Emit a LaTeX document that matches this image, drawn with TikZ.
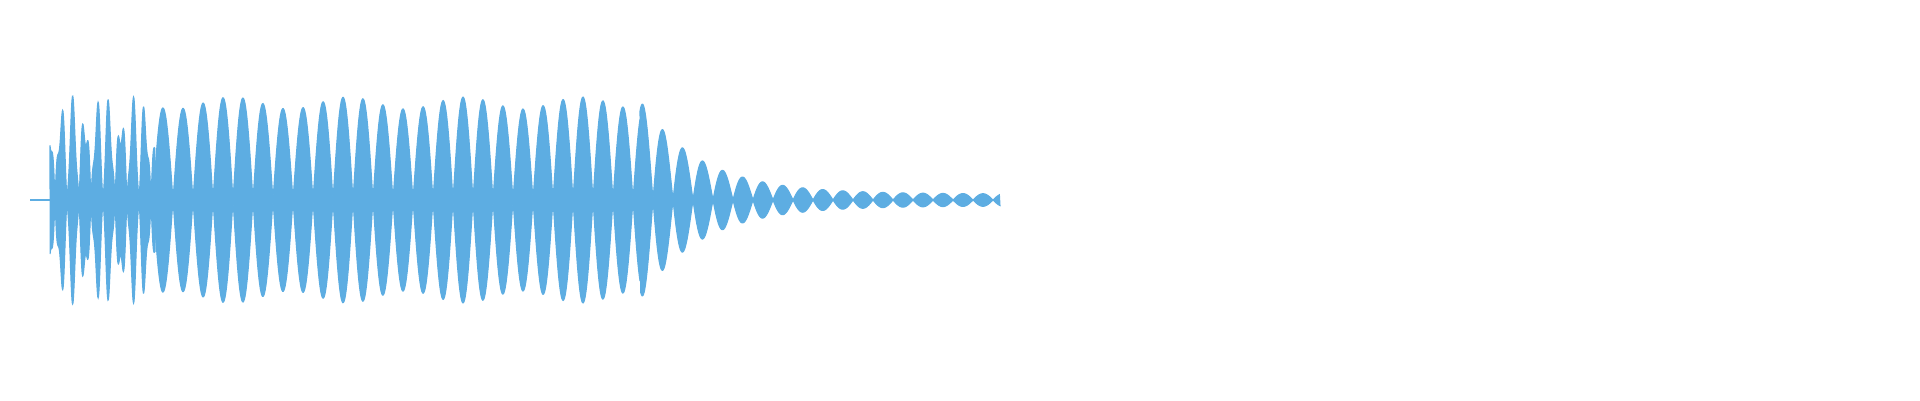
\documentclass[tikz,border=0pt]{standalone}
\usetikzlibrary{backgrounds}
\definecolor{wave}{RGB}{93,173,226}
\tikzset{
  lobe/.style={fill=wave, draw=wave, line width=0.3pt},
}
\begin{document}
\begin{tikzpicture}[
  declare function={
    early(\x)=(0.8+0.25*sin(4100*\x))*abs(sin(1500*(\x-0.55)));
    body(\x)=(0.97+0.06*cos(310*\x))*abs(sin(900*(\x-1.73)));
    tail(\x)=(0.06+0.94*exp(-(\x-6.4)/0.6))*abs(sin(900*(\x-1.73)));
  }]
  \useasboundingbox (0,0) rectangle (19.2,4);

  % quiet lead-in
  \draw [wave, line width=0.5pt] (0.3,2) -- (0.5,2);

  % fast start
  \fill [lobe] plot[domain=0.5:1.55, samples=300, smooth] (\x,{2+early(\x)})
    -- plot[domain=1.55:0.5, samples=300, smooth] (\x,{2-early(\x)}) -- cycle;

  % steady part
  \fill [lobe] plot[domain=1.55:6.4, samples=700] (\x,{2+body(\x)})
    -- plot[domain=6.4:1.55, samples=700] (\x,{2-body(\x)}) -- cycle;

  % decay
  \fill [lobe] plot[domain=6.4:10.0, samples=500] (\x,{2+tail(\x)})
    -- plot[domain=10.0:6.4, samples=500] (\x,{2-tail(\x)}) -- cycle;
\end{tikzpicture}
\end{document}
